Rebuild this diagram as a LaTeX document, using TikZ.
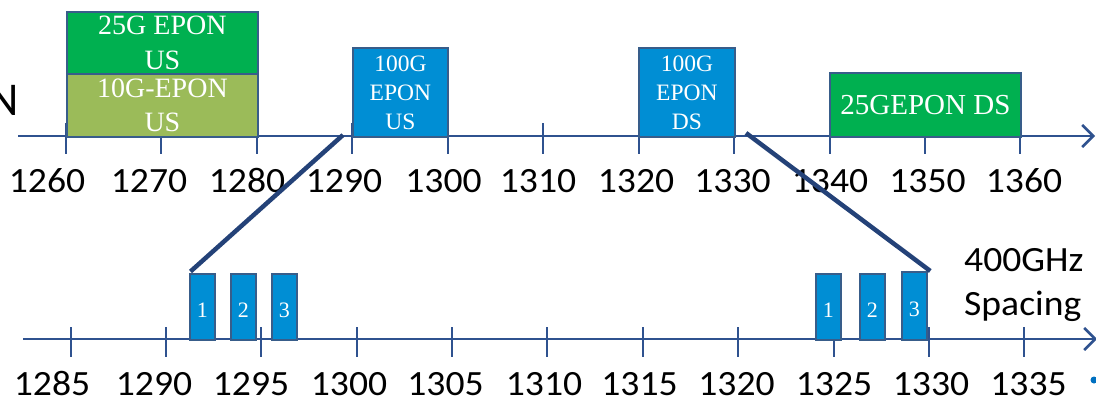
\documentclass[tikz,border=0pt]{standalone}
\usepackage{fontspec}
\setmainfont{Liberation Serif}
\newfontfamily\lblfont[FakeStretch=1.06]{Carlito}
\newfontfamily\bigfont{Carlito}
\usetikzlibrary{arrows.meta}
\definecolor{pgreen}{RGB}{0,176,80}
\definecolor{polive}{RGB}{155,187,89}
\definecolor{pblue}{RGB}{0,142,212}
\definecolor{pedge}{RGB}{56,93,138}
\definecolor{paxis}{RGB}{47,82,143}
\definecolor{pline}{RGB}{36,66,120}
\definecolor{pdot}{RGB}{0,112,192}
\begin{document}
\begin{tikzpicture}[x=1pt,y=-1pt,
  band/.style={draw=pedge, line width=1.8pt, text=white, inner sep=0pt, align=center, anchor=north west},
  chan/.style={band, fill=pblue, minimum width=25pt, minimum height=66pt,
    font=\fontsize{22}{24}\selectfont, text height=21pt, text depth=0pt},
  axisline/.style={draw=paxis, line width=2.6pt, -{Straight Barb[length=11pt,width=22pt]}},
  tickline/.style={draw=paxis, line width=2pt},
  lbl/.style={font=\fontsize{35.5}{42}\lblfont, inner sep=0pt, anchor=base},
  zoomline/.style={draw=pline, line width=4.5pt}
]
\useasboundingbox (0,0) rectangle (1096,399);

% ---------- top axis ----------
\coordinate (tA) at (18,136);
\coordinate (tB) at (1095,136);
\draw[axisline] (tA) -- (tB);
\foreach \v in {1260,1270,...,1360}{
  \draw[tickline] ({66+(\v-1260)*9.544},123) -- ({66+(\v-1260)*9.544},154);
}
\foreach \x/\t in {47/1260,149/1270,247/1280,344/1290,443.5/1300,538/1310,636/1320,732.5/1330,830/1340,927.5/1350,1024/1360}{
  \node[lbl] (t\t) at (\x,192) {\t};
}

% ---------- bottom axis ----------
\coordinate (bA) at (23,339);
\coordinate (bB) at (1097,339);
\draw[axisline] (bA) -- (bB);
\foreach \v in {1285,1290,...,1335}{
  \draw[tickline] ({70.7+(\v-1285)*19.07},327) -- ({70.7+(\v-1285)*19.07},357);
}
\foreach \x/\t in {52/1285,154/1290,251/1295,349/1300,445.5/1305,544/1310,639.5/1315,736.5/1320,834/1325,931/1330,1028.5/1335}{
  \node[lbl] (b\t) at (\x,395) {\t};
}

% ---------- top bands ----------
\node[band, fill=pgreen, minimum width=191pt, minimum height=62pt,
  font=\fontsize{28}{35}\selectfont] (us25) at (66,11) {25G EPON\\US};
\node[band, fill=polive, minimum width=191pt, minimum height=63pt,
  font=\fontsize{28}{34}\selectfont] (us10) at (66,73) {10G-EPON\\US};
\node[band, fill=pblue, minimum width=95pt, minimum height=89pt,
  font=\fontsize{23.5}{29}\selectfont] (us100) at (352,47) {100G\\EPON\\US};
\node[band, fill=pblue, minimum width=96pt, minimum height=89pt,
  font=\fontsize{23.5}{29}\selectfont] (ds100) at (638,47) {100G\\EPON\\DS};
\node[band, fill=pgreen, minimum width=191pt, minimum height=64pt,
  font=\fontsize{29}{35}\selectfont] (ds25) at (829,72) {25GEPON DS};

% ---------- channels ----------
\node[chan] (l1) at (189,273) {1};
\node[chan] (l2) at (230,273) {2};
\node[chan] (l3) at (271,273) {3};
\node[chan] (r1) at (815,273) {1};
\node[chan] (r2) at (859,273) {2};
\node[chan, minimum height=68pt] (r3) at (901,271) {3};

% ---------- zoom lines ----------
\coordinate (zl) at (343,135);
\coordinate (zr) at (746,133);
\draw[zoomline] (zl) -- ([xshift=1.5pt,yshift=1.5pt]l1.north west);
\draw[zoomline] (zr) -- ([xshift=2.5pt]r3.north east);

% ---------- other text ----------
\node[lbl, anchor=base west] (ghz) at (964,271) {400GHz};
\node[lbl, anchor=base west] (spc) at (964,315) {Spacing};
\node[font=\fontsize{47}{52}\bigfont, inner sep=0pt, anchor=base east] (nn) at (19,115) {N};
\fill[pdot] (1094,380) circle (3.5);
\end{tikzpicture}
\end{document}
